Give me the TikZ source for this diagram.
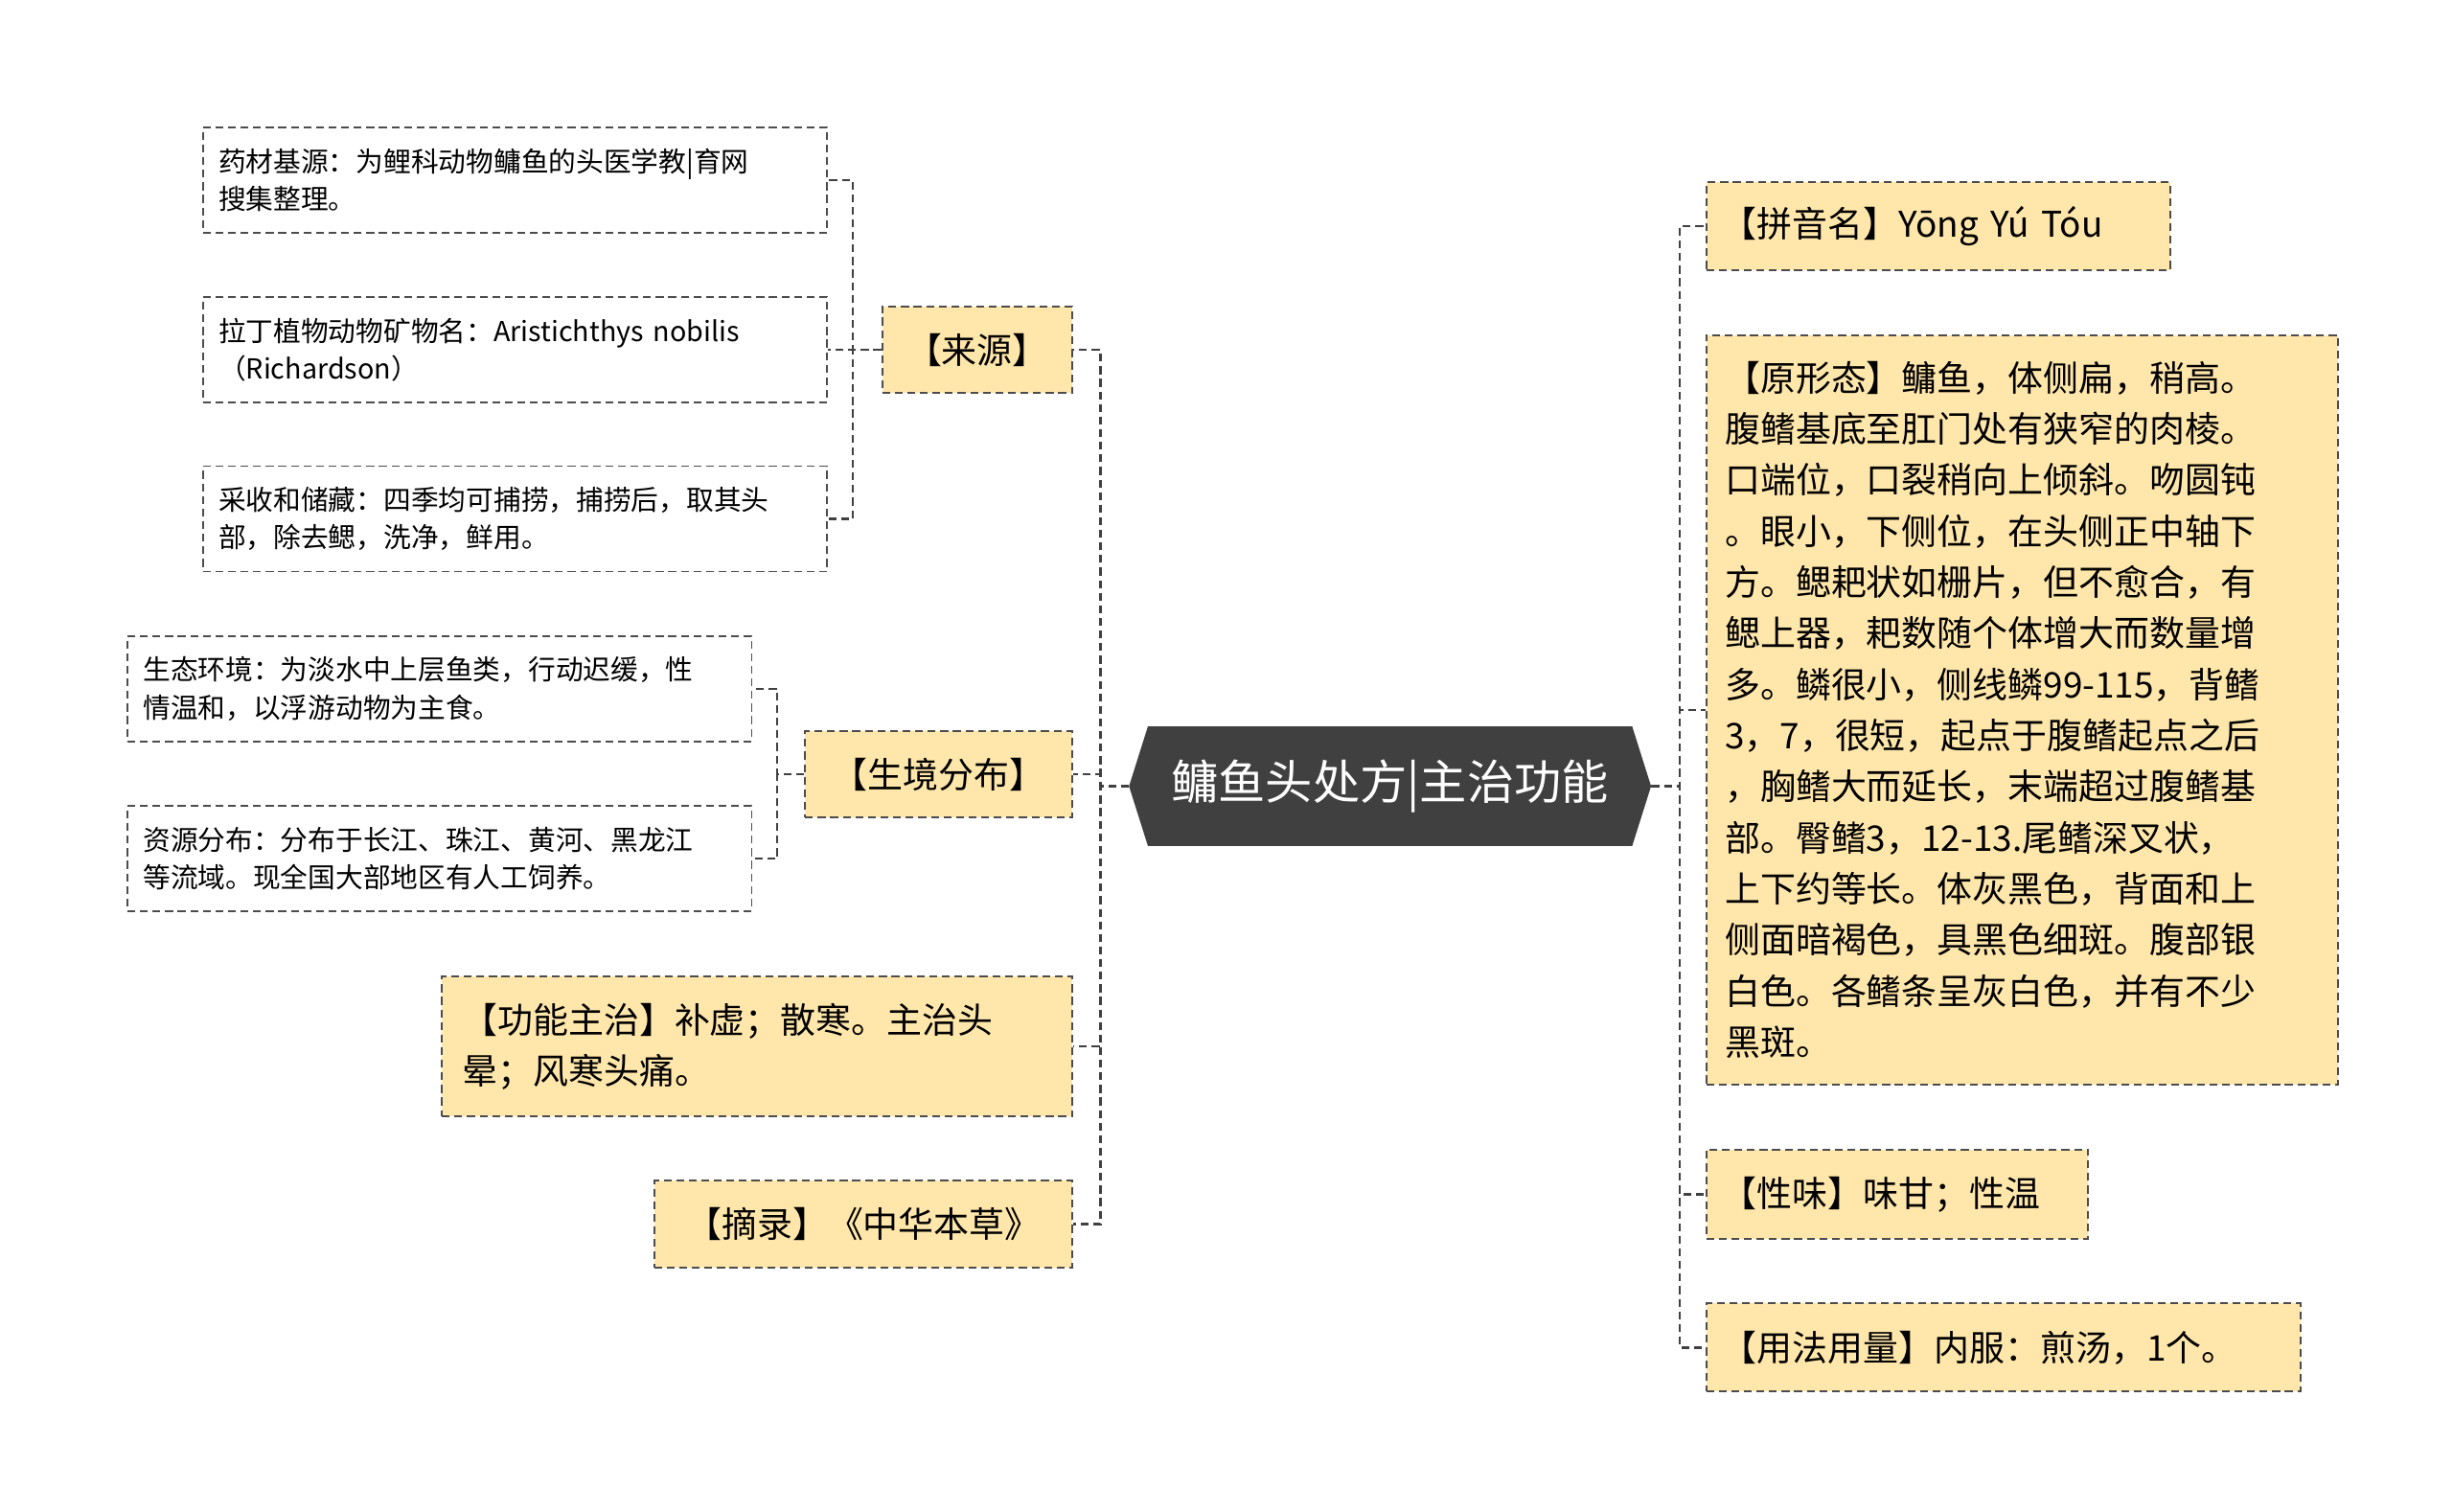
\documentclass[tikz,border=0pt]{standalone}
\usepackage{fontspec}
\setmainfont{Noto Sans CJK SC}
\begin{document}
\begin{tikzpicture}[x=1pt,y=-1pt,
  box/.style={draw=black!70,dash pattern=on 5pt off 3pt,line width=1.2pt,fill=ybg,align=left,inner sep=0pt},
  leaf/.style={draw=black!70,dash pattern=on 5pt off 3pt,line width=1.1pt,fill=white,align=left,inner sep=0pt,font=\fontsize{17.5}{24}\selectfont},
  l1/.style={box,font=\fontsize{22.5}{32.5}\selectfont},
  conn/.style={draw=black!75,dash pattern=on 5pt off 3pt,line width=1.4pt}]
\definecolor{ybg}{HTML}{FFE6AA}
\useasboundingbox (0,0) rectangle (1560,961);
% center
\fill[black!75] (718,500) -- (730,462) -- (1038,462) -- (1050,500) -- (1038,538) -- (730,538) -- cycle;
\node[text=white,font=\fontsize{30}{36}\selectfont,minimum width=332,minimum height=76] (c) at (884,500) {鳙鱼头处方|主治功能};
% left L1
\node[l1,minimum width=121,minimum height=55] (ly) at (621.5,222.5) {【来源】};
\node[l1,minimum width=170,minimum height=55] (sj) at (597,492.5) {【生境分布】};
\node[l1,minimum width=401,minimum height=89,text width=375] (gn) at (481.5,665.5) {【功能主治】补虚；散寒。主治头\\晕；风寒头痛。};
\node[l1,minimum width=266,minimum height=55] (zl) at (549,778.5) {【摘录】《中华本草》};
% leaves
\node[leaf,minimum width=397,minimum height=67,text width=377] (a1) at (327.5,114.5) {药材基源：为鲤科动物鳙鱼的头医学教|育网\\搜集整理。};
\node[leaf,minimum width=397,minimum height=67,text width=377] (a2) at (327.5,222.5) {拉丁植物动物矿物名：Aristichthys nobilis\\（Richardson）};
\node[leaf,minimum width=397,minimum height=67,text width=377] (a3) at (327.5,330) {采收和储藏：四季均可捕捞，捕捞后，取其头\\部，除去鳃，洗净，鲜用。};
\node[leaf,minimum width=397,minimum height=67,text width=377] (b1) at (279.5,438) {生态环境：为淡水中上层鱼类，行动迟缓，性\\情温和，以浮游动物为主食。};
\node[leaf,minimum width=397,minimum height=67,text width=377] (b2) at (279.5,546) {资源分布：分布于长江、珠江、黄河、黑龙江\\等流域。现全国大部地区有人工饲养。};
% right
\node[l1,minimum width=295,minimum height=56,text width=275] (r1) at (1232.5,144) {【拼音名】Yōng Yú Tóu};
\node[l1,minimum width=402,minimum height=477,text width=378] (r2) at (1286,451.5) {【原形态】鳙鱼，体侧扁，稍高。\\腹鳍基底至肛门处有狭窄的肉棱。\\口端位，口裂稍向上倾斜。吻圆钝\\。眼小，下侧位，在头侧正中轴下\\方。鳃耙状如栅片，但不愈合，有\\鳃上器，耙数随个体增大而数量增\\多。鳞很小，侧线鳞99-115，背鳍\\3，7，很短，起点于腹鳍起点之后\\，胸鳍大而延长，末端超过腹鳍基\\部。臀鳍3，12-13.尾鳍深叉状，\\上下约等长。体灰黑色，背面和上\\侧面暗褐色，具黑色细斑。腹部银\\白色。各鳍条呈灰白色，并有不少\\黑斑。};
\node[l1,minimum width=243,minimum height=57,text width=223] (r3) at (1206.5,759.5) {【性味】味甘；性温};
\node[l1,minimum width=378,minimum height=56,text width=358] (r4) at (1274,857) {【用法用量】内服：煎汤，1个。};
% connectors
\foreach \n in {ly,sj,gn,zl} \draw[conn] (c.west) -- ++(-18,0) |- (\n.east);
\foreach \n in {r1,r2,r3,r4} \draw[conn] (c.east) -- ++(18,0) |- (\n.west);
\foreach \n in {a1,a2,a3} \draw[conn] (ly.west) -- ++(-18,0) |- (\n.east);
\foreach \n in {b1,b2} \draw[conn] (sj.west) -- ++(-17,0) |- (\n.east);
\end{tikzpicture}
\end{document}
